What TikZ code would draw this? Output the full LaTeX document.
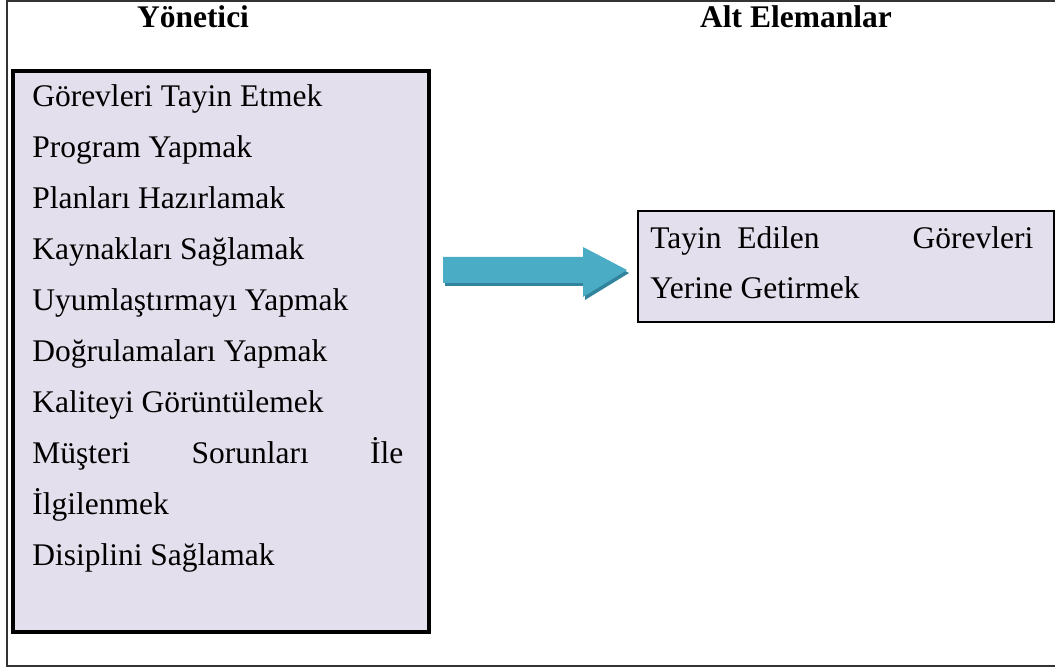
\documentclass[tikz,border=0pt]{standalone}
\usepackage{fontspec}
\setmainfont{Liberation Serif}
\definecolor{boxlilac}{HTML}{E4DFEC}
\definecolor{arrowteal}{HTML}{4BACC6}
\definecolor{arrowdark}{HTML}{31849B}
\begin{document}
\begin{tikzpicture}[x=0.025cm,y=-0.025cm,
    txt/.style={font=\fontsize{22.4}{27}\selectfont,inner sep=0pt,anchor=base west},
    head/.style={font=\fontsize{22.4}{27}\selectfont\bfseries,inner sep=0pt,anchor=base},
    panel/.style={draw=black,fill=boxlilac,line width=2.6pt}]
    \useasboundingbox (0,0) rectangle (1055,668);
    % outer frame
    \draw[line width=0.9pt,black!80] (1060,1) -- (7,1) -- (7,666) -- (1060,666);
    % headings
    \node[head] (yonetici) at (193,28) {Yönetici};
    \node[head] (altelem) at (796,28) {Alt Elemanlar};
    % boxes
    \draw[panel] (13,71) rectangle (429,632);
    \draw[panel,line width=2pt] (638,211) rectangle (1054,322);
    % manager tasks
    \foreach \task [count=\i] in {Görevleri Tayin Etmek, Program Yapmak,
        Planları Hazırlamak, Kaynakları Sağlamak, Uyumlaştırmayı Yapmak,
        Doğrulamaları Yapmak, Kaliteyi Görüntülemek,
        {\makebox[9.275cm][s]{Müşteri Sorunları İle}}, İlgilenmek,
        Disiplini Sağlamak}
        \node[txt] (task\i) at (32,{107+51*(\i-1)}) {\task};
    % subordinate task
    \node[txt] (sub1) at (650,249)
        {\makebox[9.575cm][l]{Tayin\hspace{0.5em}Edilen\hfill Görevleri}};
    \node[txt] (sub2) at (650,299) {Yerine Getirmek};
    % block arrow
    \fill[arrowdark] (445,260) -- (585,260) -- (585,250) -- (629,273) -- (585,300)
        -- (585,286) -- (445,286) -- cycle;
    \fill[arrowteal] (443,257) -- (583,257) -- (583,247) -- (627,270) -- (583,297)
        -- (583,283) -- (443,283) -- cycle;
\end{tikzpicture}
\end{document}
